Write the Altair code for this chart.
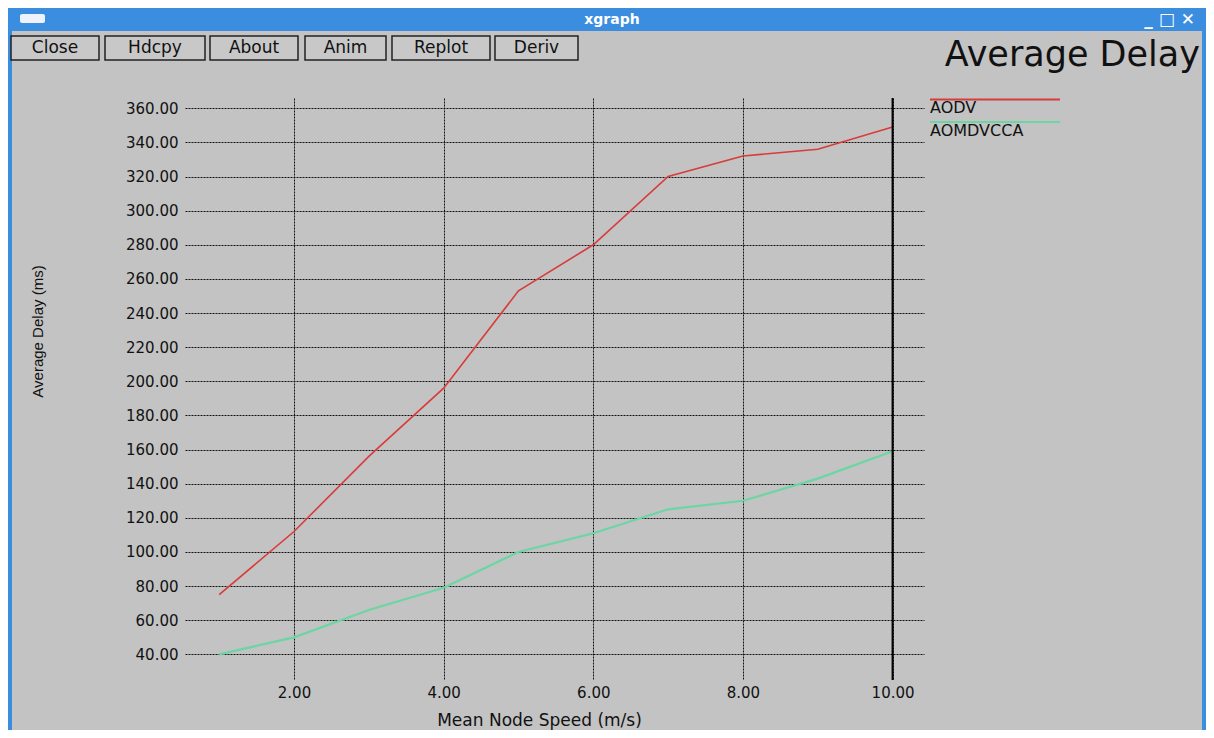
import altair as alt
import pandas as pd

# ---------------- data ----------------
SPEED = [1, 2, 3, 4, 5, 6, 7, 8, 9, 10]
AODV = [75, 112, 156, 196, 253, 280, 320, 332, 336, 349]
AOMDVCCA = [40, 50, 66, 79, 100, 111, 125, 130, 143, 159]
SERIES = ["AODV", "AOMDVCCA"]
X_TICKS = [2, 4, 6, 8, 10]
Y_TICKS = list(range(40, 361, 20))
BUTTONS = ["Close", "Hdcpy", "About", "Anim", "Replot", "Deriv"]
TITLE = "Average Delay"
X_TITLE = "Mean Node Speed (m/s)"
Y_TITLE = "Average Delay (ms)"
WINDOW_TITLE = "xgraph"
WINDOW_CONTROLS = "_   □   ✕"

# ---------------- styles / layout ----------------
COLORS = ["#d93b3b", "#6bd6a3"]
WIDTHS = [1.6, 2.2]
BG = "#c3c3c3"
BLUE = "#3b8de0"
BUTTON_BOXES = [(-174, -86), (-80, 20), (25, 113), (120, 201), (207, 305), (310, 393)]

df = pd.DataFrame({
    "speed": SPEED * 2,
    "delay": AODV + AOMDVCCA,
    "series": [SERIES[0]] * len(SPEED) + [SERIES[1]] * len(SPEED),
})
one = pd.DataFrame({"k": [0]})

x = alt.X(
    "speed:Q",
    scale=alt.Scale(domain=[0.543, 10.42], nice=False, zero=False),
    axis=alt.Axis(
        values=X_TICKS, format=".2f", title=X_TITLE,
        grid=True, gridDash=[2, 1], gridColor="#111111", gridWidth=1,
        domain=False, ticks=False,
        labelFont="DejaVu Sans", labelFontSize=15, labelColor="#111111", labelPadding=5,
        titleFont="DejaVu Sans", titleFontSize=17, titleFontWeight="normal", titleColor="#111111",
        titleX=354, titleY=45, titleAlign="center", titleBaseline="alphabetic",
    ),
)
y = alt.Y(
    "delay:Q",
    scale=alt.Scale(domain=[25, 366], nice=False, zero=False),
    axis=alt.Axis(
        values=Y_TICKS, format=".2f", title=Y_TITLE,
        grid=True, gridDash=[2, 1], gridColor="#111111", gridWidth=1,
        domain=False, ticks=False,
        labelFont="DejaVu Sans", labelFontSize=15, labelColor="#111111", labelPadding=7,
        titleFont="Liberation Sans", titleFontSize=15, titleFontWeight="normal", titleColor="#111111",
        titleX=-148, titleY=233, titleAngle=270, titleAlign="center", titleBaseline="middle",
    ),
)

lines = alt.Chart(df).mark_line().encode(
    x=x, y=y,
    color=alt.Color("series:N", scale=alt.Scale(domain=SERIES, range=COLORS), legend=None),
    strokeWidth=alt.StrokeWidth("series:N", scale=alt.Scale(domain=SERIES, range=WIDTHS), legend=None),
)

last_rule = alt.Chart(one).mark_rule(color="#000000", strokeWidth=2).encode(
    x=alt.datum(X_TICKS[-1])
)

layers = [lines, last_rule]

# custom xgraph-like legend (line above label)
for i, name in enumerate(SERIES):
    layers.append(
        alt.Chart(one).mark_rule(color=COLORS[i], strokeWidth=1.8).encode(
            x=alt.value(745), x2=alt.value(875), y=alt.value(1.5 + 22.5 * i)
        )
    )
    layers.append(
        alt.Chart(one).mark_text(
            text=name, align="left", baseline="alphabetic",
            font="DejaVu Sans", fontSize=16, color="#111111",
        ).encode(x=alt.value(745), y=alt.value(15 + 22.5 * i))
    )

# chart title
layers.append(
    alt.Chart(one).mark_text(
        text=TITLE, align="right", baseline="alphabetic",
        font="DejaVu Sans", fontSize=35, color="#111111",
    ).encode(x=alt.value(1015), y=alt.value(-32))
)

# window chrome
layers.append(alt.Chart(one).mark_rect(color=BLUE).encode(
    x=alt.value(-177), x2=alt.value(1021), y=alt.value(-90), y2=alt.value(-67)))
layers.append(alt.Chart(one).mark_rect(color=BLUE).encode(
    x=alt.value(-177), x2=alt.value(-173), y=alt.value(-90), y2=alt.value(632)))
layers.append(alt.Chart(one).mark_rect(color=BLUE).encode(
    x=alt.value(1017), x2=alt.value(1021), y=alt.value(-90), y2=alt.value(632)))
layers.append(alt.Chart(one).mark_rect(color="#eef3fb", cornerRadius=2).encode(
    x=alt.value(-165), x2=alt.value(-140), y=alt.value(-84), y2=alt.value(-75)))
layers.append(alt.Chart(one).mark_text(
    text=WINDOW_TITLE, align="center", baseline="middle",
    font="DejaVu Sans", fontSize=14, fontWeight="bold", color="#ffffff",
).encode(x=alt.value(427), y=alt.value(-78)))
layers.append(alt.Chart(one).mark_text(
    text=WINDOW_CONTROLS, align="right", baseline="middle",
    font="DejaVu Sans", fontSize=17, fontWeight="bold", color="#ffffff",
).encode(x=alt.value(1010), y=alt.value(-78)))

for label, (x0, x1) in zip(BUTTONS, BUTTON_BOXES):
    layers.append(alt.Chart(one).mark_rect(
        fill="#c8c8c8", stroke="#222222", strokeWidth=1.5
    ).encode(x=alt.value(x0), x2=alt.value(x1), y=alt.value(-62), y2=alt.value(-38)))
    layers.append(alt.Chart(one).mark_text(
        text=label, align="center", baseline="middle",
        font="DejaVu Sans", fontSize=17, color="#111111",
    ).encode(x=alt.value((x0 + x1) / 2), y=alt.value(-50)))

chart = alt.layer(*layers).properties(
    width=739,
    height=582,
    autosize=alt.AutoSizeParams(type="none"),
    padding={"left": 177, "top": 90, "right": 282, "bottom": 50},
).configure(background=BG).configure_view(stroke=None)

chart.save("out.html", embed_options={"renderer": "svg", "actions": False})
